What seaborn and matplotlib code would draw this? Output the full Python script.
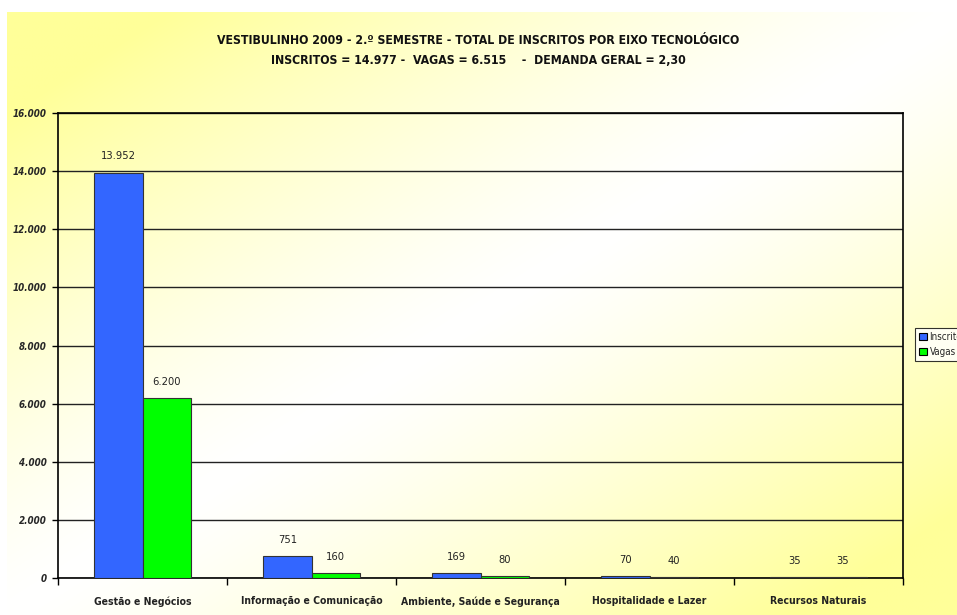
import numpy as np
import pandas as pd
import seaborn as sns
import matplotlib

matplotlib.use("Agg")
import matplotlib.pyplot as plt
from matplotlib.ticker import FixedLocator, FuncFormatter

# Chart data
categories = [
    "Gestão e Negócios",
    "Informação e Comunicação",
    "Ambiente, Saúde e Segurança",
    "Hospitalidade e Lazer",
    "Recursos Naturais",
]
inscritos = [13952, 751, 169, 70, 35]
vagas = [6200, 160, 80, 40, 35]
series_names = ["Inscritos", "Vagas"]
title_lines = [
    "VESTIBULINHO 2009 - 2.º SEMESTRE - TOTAL DE INSCRITOS POR EIXO TECNOLÓGICO",
    "INSCRITOS = 14.977 -  VAGAS = 6.515    -  DEMANDA GERAL = 2,30",
]


def br_number(v, pos=None):
    # Brazilian thousands separator
    return f"{v:,.0f}".replace(",", ".")


def main():
    sns.set_theme(style="white")
    plt.rcParams["font.family"] = ["DejaVu Sans"]
    plt.rcParams["font.stretch"] = "condensed"

    df = pd.DataFrame({
        "Eixo": categories * 2,
        "Serie": [series_names[0]] * len(categories) + [series_names[1]] * len(categories),
        "Valor": inscritos + vagas,
    })

    fig = plt.figure(figsize=(9.57, 6.15), dpi=100, facecolor="white")

    # Diagonal yellow-white-yellow background
    bg = fig.add_axes([7 / 957, 0, 1 - 7 / 957, 1 - 12 / 615], zorder=-10)
    h, w = 300, 470
    yy, xx = np.mgrid[0:h, 0:w]
    t = (xx / (w - 1) + yy / (h - 1)) / 2
    k = np.clip(np.abs(t - 0.5) * 2.4, 0, 1) ** 1.3
    yellow = np.array([1.0, 1.0, 0.6])
    white = np.array([1.0, 1.0, 1.0])
    img = white[None, None, :] * (1 - k[..., None]) + yellow[None, None, :] * k[..., None]
    bg.imshow(img, aspect="auto", extent=[0, 1, 0, 1], interpolation="bilinear")
    bg.set_axis_off()

    ax = fig.add_axes([58 / 957, 1 - 578 / 615, 845 / 957, 465 / 615])
    ax.patch.set_alpha(0)

    sns.barplot(
        data=df, x="Eixo", y="Valor", hue="Serie", order=categories,
        hue_order=series_names, palette=["#3366FF", "#00FF00"],
        width=0.57, edgecolor="#333333", linewidth=0.8, saturation=1,
        ax=ax, zorder=3,
    )

    for container in ax.containers:
        ax.bar_label(container, labels=[br_number(v) for v in container.datavalues],
                     padding=8, fontsize=8, color="#222222")

    ax.set_xlim(-0.5, len(categories) - 0.5)
    ax.set_ylim(0, 16000)
    ax.yaxis.set_major_locator(FixedLocator(np.arange(0, 16001, 2000)))
    ax.yaxis.set_major_formatter(FuncFormatter(br_number))
    ax.grid(axis="y", color="#222222", linewidth=1, zorder=0)
    ax.set_axisbelow(True)

    ax.set_xticks(range(len(categories)))
    ax.set_xticklabels(categories, fontsize=7.5, fontweight="semibold", color="#222222")
    ax.set_xticks(np.arange(-0.5, len(categories), 1.0), minor=True)
    ax.tick_params(axis="x", which="major", length=0, pad=13)
    ax.tick_params(axis="x", which="minor", length=5, width=1, color="black", direction="out", bottom=True)
    ax.tick_params(axis="y", length=4, width=1, color="black", direction="out", left=True, pad=4)
    for lbl in ax.get_yticklabels():
        lbl.set_fontsize(7)
        lbl.set_fontweight("bold")
        lbl.set_fontstyle("italic")

    for side in ["left", "bottom", "top", "right"]:
        ax.spines[side].set_visible(True)
        ax.spines[side].set_color("black")
        ax.spines[side].set_linewidth(1.2)

    ax.set_xlabel("")
    ax.set_ylabel("")

    leg = ax.legend(
        loc="upper left", bbox_to_anchor=(915 / 957, 1 - 328 / 615),
        bbox_transform=fig.transFigure, frameon=True, fancybox=False,
        fontsize=7, handlelength=0.8, handleheight=0.8, handletextpad=0.3,
        borderpad=0.4, labelspacing=0.5, borderaxespad=0,
    )
    leg.get_frame().set_edgecolor("black")
    leg.get_frame().set_facecolor("white")
    leg.get_frame().set_linewidth(0.8)
    for patch in leg.get_patches():
        patch.set_edgecolor("black")

    fig.text(0.5, 1 - 41 / 615, title_lines[0], ha="center", va="center",
             fontsize=8.8, fontweight="bold", color="#111111")
    fig.text(0.5, 1 - 61 / 615, title_lines[1], ha="center", va="center",
             fontsize=8.8, fontweight="bold", color="#111111")

    fig.savefig("out.png", dpi=100, facecolor=fig.get_facecolor())
    plt.close(fig)


if __name__ == "__main__":
    main()
